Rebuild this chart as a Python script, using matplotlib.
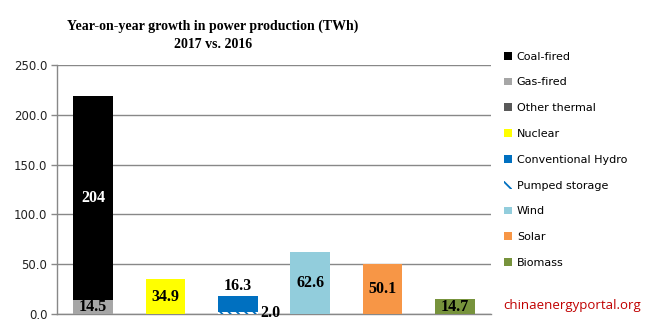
import matplotlib
matplotlib.use("Agg")
import matplotlib.pyplot as plt
from matplotlib.patches import Patch
import numpy as np

# Categories (one stacked column each)
groups = ["Thermal", "Nuclear", "Hydro", "Wind", "Solar", "Biomass"]

# Series values per column (TWh growth, 2017 vs. 2016)
coal_fired    = [204.0, 0, 0, 0, 0, 0]
gas_fired     = [14.5, 0, 0, 0, 0, 0]
other_thermal = [0, 0, 0, 0, 0, 0]
nuclear       = [0, 34.9, 0, 0, 0, 0]
conv_hydro    = [0, 0, 16.3, 0, 0, 0]
pumped        = [0, 0, 2.0, 0, 0, 0]
wind          = [0, 0, 0, 62.6, 0, 0]
solar         = [0, 0, 0, 0, 50.1, 0]
biomass       = [0, 0, 0, 0, 0, 14.7]

y_ticks = [0, 50, 100, 150, 200, 250]

# name, values, colour, hatch, label colour, label placement
series = [
    ("Gas-fired", gas_fired, "#a6a6a6", None, "black", "center"),
    ("Coal-fired", coal_fired, "black", None, "white", "center"),
    ("Other thermal", other_thermal, "#595959", None, "white", "center"),
    ("Nuclear", nuclear, "#ffff00", None, "black", "center"),
    ("Pumped storage", pumped, "white", "\\\\\\\\", "black", "right"),
    ("Conventional Hydro", conv_hydro, "#0070c0", None, "black", "above"),
    ("Wind", wind, "#92cddc", None, "black", "center"),
    ("Solar", solar, "#f79646", None, "black", "center"),
    ("Biomass", biomass, "#77933c", None, "black", "center"),
]
legend_order = ["Coal-fired", "Gas-fired", "Other thermal", "Nuclear",
                "Conventional Hydro", "Pumped storage", "Wind", "Solar", "Biomass"]

plt.rcParams["hatch.linewidth"] = 1.3
fig = plt.figure(figsize=(6.6, 3.3), dpi=100)
ax = fig.add_axes([0.0864, 0.0485, 0.6576, 0.7545])

x = np.arange(len(groups))
width = 0.55
bottom = np.zeros(len(groups))
handles = {}
label_font = dict(family="Liberation Serif", weight="bold", fontsize=11.5)

for name, vals, color, hatch, lcol, place in series:
    vals = np.array(vals, dtype=float)
    if hatch:
        ax.bar(x, vals, width, bottom=bottom, facecolor="white",
               edgecolor="#0070c0", hatch=hatch, linewidth=0, zorder=3)
        handles[name] = Patch(facecolor="white", edgecolor="#0070c0",
                              hatch="\\\\\\", linewidth=0)
    else:
        ax.bar(x, vals, width, bottom=bottom, color=color,
               linewidth=0, zorder=3)
        handles[name] = Patch(facecolor=color, linewidth=0)
    for xi, v, b in zip(x, vals, bottom):
        if v <= 0:
            continue
        txt = f"{v:.0f}" if v >= 100 else f"{v:.1f}"
        if place == "center":
            ax.text(xi, b + v / 2, txt, ha="center", va="center",
                    color=lcol, zorder=4, **label_font)
        elif place == "above":
            ax.text(xi, b + v + 2, txt, ha="center", va="bottom",
                    color=lcol, zorder=4, **label_font)
        elif place == "right":
            ax.text(xi + width / 2 + 0.03, b + v / 2 - 0.5, txt, ha="left",
                    va="center", color=lcol, zorder=4, **label_font)
    bottom += vals

ax.set_xlim(-0.5, len(groups) - 0.5)
ax.set_ylim(0, 250)
ax.set_yticks(y_ticks)
ax.set_yticklabels([f"{t:.1f}" for t in y_ticks], fontsize=8.5,
                   family="DejaVu Sans", color="#222222")
ax.set_xticks([])
ax.grid(axis="y", color="#888888", linewidth=1, zorder=0)
ax.set_axisbelow(True)
for s in ["top", "right"]:
    ax.spines[s].set_visible(False)
for s in ["left", "bottom"]:
    ax.spines[s].set_color("#888888")
    ax.spines[s].set_linewidth(1)
ax.tick_params(axis="y", length=4, color="#888888", width=1, pad=3)

fig.text(0.323, 0.893, "Year-on-year growth in power production (TWh)\n2017 vs. 2016",
         ha="center", va="center", family="Liberation Serif", weight="bold",
         fontsize=10, linespacing=1.45)

leg = fig.legend([handles[n] for n in legend_order], legend_order,
                 loc="upper left", bbox_to_anchor=(0.757, 0.857),
                 frameon=False, handlelength=0.7, handleheight=0.7,
                 handletextpad=0.45, labelspacing=1.42, borderaxespad=0,
                 prop=dict(family="DejaVu Sans", size=8))

fig.text(0.763, 0.075, "chinaenergyportal.org", color="#c00000",
         fontsize=9.5, family="Open Sans", ha="left", va="center")

fig.savefig("out.png", dpi=100)
